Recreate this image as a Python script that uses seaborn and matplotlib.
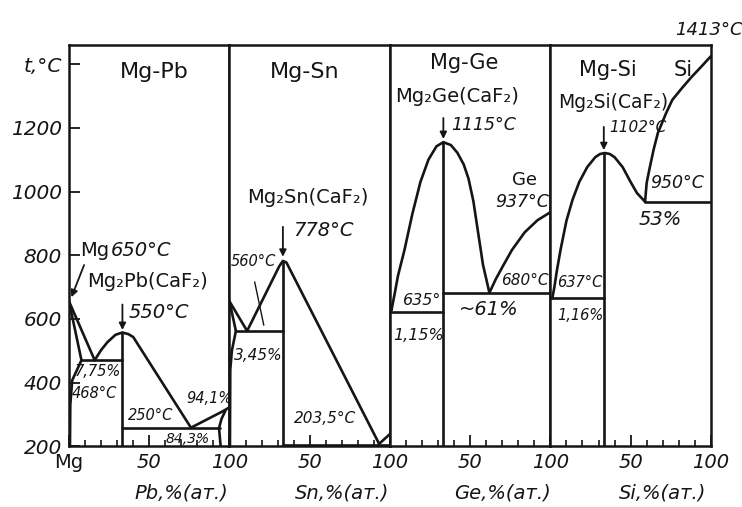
import matplotlib
matplotlib.use("Agg")
import matplotlib.pyplot as plt
import seaborn as sns

# ---------------- Mg-Pb (x = at.% Pb) ----------------
pb_liq_mg_x = [0, 16]
pb_liq_mg_t = [655, 470]
pb_sol_mg_x = [0, 7.75]
pb_sol_mg_t = [655, 470]
pb_solv_mg_x = [7.75, 2, 0.8, 0.6]
pb_solv_mg_t = [470, 407, 330, 200]
pb_eut1_x = [7.75, 33.3]
pb_eut1_t = [470, 470]
pb_liq_mid_x = [16, 20, 24, 29, 33.3, 37, 40, 76]
pb_liq_mid_t = [470, 502, 527, 550, 557, 552, 543, 258]
pb_eut2_x = [33.3, 94]
pb_eut2_t = [257, 257]
pb_liq_pb_x = [76, 96, 100]
pb_liq_pb_t = [258, 310, 322]
pb_sol_pb_x = [97.5, 95, 93.5, 94.5]
pb_sol_pb_t = [312, 285, 257, 200]
pb_cmp_x = [33.3, 33.3]
pb_cmp_t = [200, 557]

# ---------------- Mg-Sn ----------------
sn_liq_mg_x = [0, 11]
sn_liq_mg_t = [655, 562]
sn_sol_mg_x = [0, 4]
sn_sol_mg_t = [655, 562]
sn_solv_mg_x = [4, 1.5, 0.5, 0.3]
sn_solv_mg_t = [562, 500, 440, 200]
sn_eut1_x = [4, 33.3]
sn_eut1_t = [562, 562]
sn_liq_mid_x = [11, 31, 33.3, 35.5, 93]
sn_liq_mid_t = [562, 765, 782, 777, 210]
sn_liq_sn_x = [93, 100]
sn_liq_sn_t = [206, 238]
sn_eut2_x = [33.3, 100]
sn_eut2_t = [204, 204]
sn_cmp_x = [33.3, 33.3]
sn_cmp_t = [200, 782]

# ---------------- Mg-Ge ----------------
ge_liq_mg_x = [0, 1]
ge_liq_mg_t = [650, 628]
ge_eut1_x = [0, 33.3]
ge_eut1_t = [620, 620]
ge_dome_x = [1, 3, 5, 9, 14, 19, 24, 29, 33.3, 38, 42, 46, 49, 52, 55, 58, 62]
ge_dome_t = [628, 680, 735, 815, 930, 1030, 1100, 1142, 1155, 1146, 1122, 1085, 1040, 970, 870, 770, 682]
ge_eut2_x = [33.3, 100]
ge_eut2_t = [680, 680]
ge_liq_ge_x = [62, 66, 70, 76, 84, 92, 100]
ge_liq_ge_t = [682, 725, 762, 816, 872, 910, 935]
ge_cmp_x = [33.3, 33.3]
ge_cmp_t = [200, 1155]

# ---------------- Mg-Si ----------------
si_eut1_x = [0, 33.3]
si_eut1_t = [665, 665]
si_dome_x = [1.2, 2.5, 4, 6.3, 10, 13.8, 18, 23, 28, 31, 34, 37, 40, 45, 50, 54, 59]
si_dome_t = [665, 700, 750, 816, 908, 974, 1030, 1077, 1108, 1118, 1121, 1118, 1108, 1077, 1030, 995, 968]
si_eut2_x = [59, 100]
si_eut2_t = [967, 967]
si_liq_si_x = [59, 60, 62, 64.5, 67, 72, 76, 82, 88, 94, 100]
si_liq_si_t = [967, 1027, 1077, 1135, 1184, 1245, 1288, 1325, 1360, 1392, 1425]
si_cmp_x = [33.3, 33.3]
si_cmp_t = [200, 1121]

curves = [
    [(pb_liq_mg_x, pb_liq_mg_t), (pb_sol_mg_x, pb_sol_mg_t), (pb_solv_mg_x, pb_solv_mg_t),
     (pb_eut1_x, pb_eut1_t), (pb_liq_mid_x, pb_liq_mid_t), (pb_eut2_x, pb_eut2_t),
     (pb_liq_pb_x, pb_liq_pb_t), (pb_sol_pb_x, pb_sol_pb_t), (pb_cmp_x, pb_cmp_t)],
    [(sn_liq_mg_x, sn_liq_mg_t), (sn_sol_mg_x, sn_sol_mg_t), (sn_solv_mg_x, sn_solv_mg_t),
     (sn_eut1_x, sn_eut1_t), (sn_liq_mid_x, sn_liq_mid_t), (sn_liq_sn_x, sn_liq_sn_t),
     (sn_eut2_x, sn_eut2_t), (sn_cmp_x, sn_cmp_t)],
    [(ge_liq_mg_x, ge_liq_mg_t), (ge_eut1_x, ge_eut1_t), (ge_dome_x, ge_dome_t),
     (ge_eut2_x, ge_eut2_t), (ge_liq_ge_x, ge_liq_ge_t), (ge_cmp_x, ge_cmp_t)],
    [(si_eut1_x, si_eut1_t), (si_dome_x, si_dome_t), (si_eut2_x, si_eut2_t),
     (si_liq_si_x, si_liq_si_t), (si_cmp_x, si_cmp_t)],
]

titles = ["Mg-Pb", "Mg-Sn", "Mg-Ge", "Mg-Si"]
xlabels = ["Pb,%(ат.)", "Sn,%(ат.)", "Ge,%(ат.)", "Si,%(ат.)"]
y_ticks = [200, 400, 600, 800, 1000, 1200, 1400]
y_ticklabels = ["200", "400", "600", "800", "1000", "1200", "t,°C"]

# labels: (text, x, t, size, italic, ha)
labels = [
    [("Mg-Pb", 53, 1376, 16, False, "center"),
     ("Mg", 7, 816, 14, False, "left"),
     ("650°C", 25.8, 816, 14, True, "left"),
     ("Mg₂Pb(CaF₂)", 11.3, 716, 14, False, "left"),
     ("550°C", 37, 621, 14, True, "left"),
     ("7,75%", 3.8, 433, 10.5, True, "left"),
     ("468°C", 1.9, 367, 10.5, True, "left"),
     ("250°C", 37, 297, 10.5, True, "left"),
     ("94,1%", 73, 351, 10.5, True, "left"),
     ("84,3%", 60, 224, 10, True, "left")],
    [("Mg-Sn", 47, 1376, 16, False, "center"),
     ("Mg₂Sn(CaF₂)", 10.7, 980, 14, False, "left"),
     ("778°C", 40, 879, 14, True, "left"),
     ("560°C", 0.5, 779, 10.5, True, "left"),
     ("3,45%", 3, 486, 11, True, "left"),
     ("203,5°C", 40, 288, 11, True, "left")],
    [("Mg-Ge", 46, 1404, 15, False, "center"),
     ("Mg₂Ge(CaF₂)", 42, 1298, 14, False, "center"),
     ("1115°C", 38, 1209, 12.5, True, "left"),
     ("Ge", 84, 1036, 13, False, "center"),
     ("937°C", 99, 967, 12.5, True, "right"),
     ("635°", 8, 659, 11.5, True, "left"),
     ("1,15%", 2, 549, 11.5, True, "left"),
     ("680°C", 99, 722, 11, True, "right"),
     ("~61%", 43, 628, 14, True, "left")],
    [("Mg-Si", 36, 1382, 15, False, "center"),
     ("Si", 83, 1382, 15, False, "center"),
     ("Mg₂Si(CaF₂)", 39, 1279, 13.5, False, "center"),
     ("1102°C", 37, 1200, 11, True, "left"),
     ("1413°C", 99, 1508, 13, True, "center"),
     ("950°C", 62, 1027, 12.5, True, "left"),
     ("53%", 55, 911, 14, True, "left"),
     ("637°C", 4.4, 713, 10.5, True, "left"),
     ("1,16%", 4.4, 612, 10.5, True, "left")],
]

# arrows: (x_from, t_from, x_to, t_to)
arrows = [
    [(33.3, 645, 33.3, 565), (9.4, 769, 1.5, 668)],
    [(33.3, 889, 33.3, 795)],
    [(33.3, 1231, 33.3, 1165)],
    [(33.3, 1203, 33.3, 1130)],
]
leaders = [[], [(15.7, 716, 21.4, 580)], [], []]

sns.set_theme(style="white")
plt.rcParams["font.family"] = ["DejaVu Sans"]
ink = "#151515"

fig, axes = plt.subplots(1, 4, figsize=(7.42, 5.07), dpi=100, sharey=True)
plt.subplots_adjust(left=0.093, right=0.958, bottom=0.120, top=0.911, wspace=0)

for i, ax in enumerate(axes):
    for xs, ts in curves[i]:
        sns.lineplot(x=xs, y=ts, ax=ax, color=ink, linewidth=1.9, sort=False,
                     estimator=None, solid_joinstyle="round", solid_capstyle="round")
    for txt, x, t, size, it, ha in labels[i]:
        ax.text(x, t, txt, fontsize=size, fontstyle="italic" if it else "normal",
                ha=ha, va="center", color=ink, clip_on=False)
    for x0, t0, x1, t1 in arrows[i]:
        ax.annotate("", xy=(x1, t1), xytext=(x0, t0),
                    arrowprops=dict(arrowstyle="-|>", color=ink, lw=1.3,
                                    mutation_scale=10, shrinkA=0, shrinkB=0))
    for x0, t0, x1, t1 in leaders[i]:
        ax.annotate("", xy=(x1, t1), xytext=(x0, t0),
                    arrowprops=dict(arrowstyle="-", color=ink, lw=1.0, shrinkA=0, shrinkB=0))

    ax.set_xlim(0, 100)
    ax.set_ylim(200, 1460)
    for sp in ax.spines.values():
        sp.set_visible(True)
        sp.set_color(ink)
        sp.set_linewidth(1.8)
    ax.set_xticks([0, 50, 100])
    ax.set_xticks([10, 20, 30, 40, 60, 70, 80, 90], minor=True)
    ax.set_xticklabels(["Mg" if i == 0 else "", "50", "100"])
    ax.tick_params(axis="x", which="major", direction="in", length=8, width=1.3,
                   color=ink, labelsize=14, pad=5, bottom=True)
    ax.tick_params(axis="x", which="minor", direction="in", length=4, width=1.2,
                   color=ink, bottom=True)
    for lab in ax.get_xticklabels():
        lab.set_fontstyle("normal" if lab.get_text() == "Mg" else "italic")
        lab.set_color(ink)
    ax.set_xlabel("")
    ax.set_ylabel("")
    ax.text(0.70, -0.117, xlabels[i], transform=ax.transAxes, fontsize=14,
            fontstyle="italic", ha="center", va="center", color=ink)
    if i > 0:
        ax.tick_params(axis="y", left=False, labelleft=False)

ax0 = axes[0]
ax0.set_yticks(y_ticks)
ax0.set_yticklabels(y_ticklabels)
ax0.tick_params(axis="y", direction="in", length=8, width=1.3, color=ink,
                labelsize=14.5, pad=5, left=True)
for lab in ax0.get_yticklabels():
    lab.set_fontstyle("italic")
    lab.set_color(ink)

fig.savefig("out.png", dpi=100)
